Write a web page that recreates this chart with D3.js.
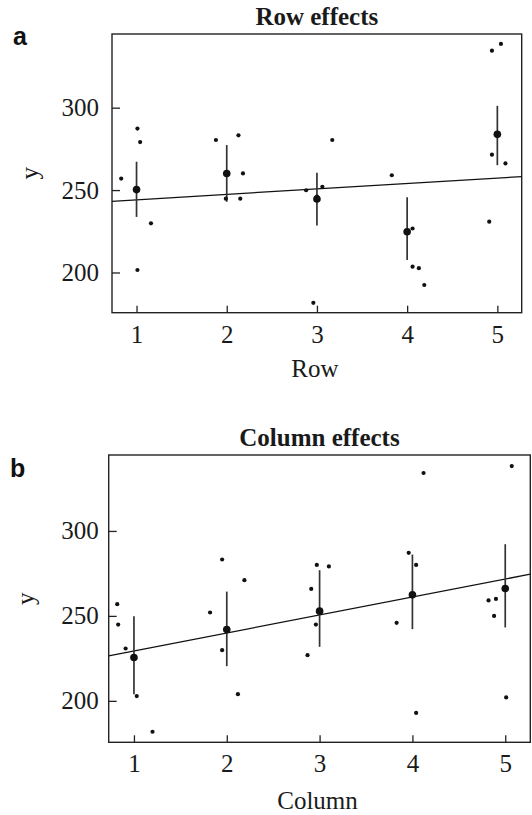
<!DOCTYPE html>
<html>
<head>
<meta charset="utf-8">
<script src="https://cdn.jsdelivr.net/npm/d3@7"></script>
<style>
  body { margin: 0; background: #fff; }
  svg { display: block; }
  .tick text { font-family: "Liberation Serif", "Times New Roman", serif; font-size: 25px; fill: #1a1a1a; }
</style>
</head>
<body>
<svg id="chart" width="532" height="815"></svg>
<script>
// panel a: observations by row (x jittered)
const rowX = [0.83, 1.01, 1.04, 1.01, 1.16, 1.88, 2.13, 2.18, 1.99, 2.15, 2.88, 3.06, 3.17, 2.96, 3.0,
  3.83, 4.06, 4.06, 4.13, 4.19, 4.91, 4.94, 5.04, 4.94, 5.09];
const rowY = [257.0, 287.3, 279.1, 201.5, 229.8, 280.4, 283.2, 260.1, 244.8, 244.8, 249.9, 252.0, 280.4, 181.6, 246.0,
  259.0, 226.7, 203.5, 202.6, 192.4, 230.8, 334.6, 338.7, 271.5, 266.2];
const rowMean = [250.3, 260.1, 244.6, 224.7, 283.8];
const rowLo = [233.7, 242.9, 228.5, 207.6, 265.1];
const rowHi = [267.2, 277.3, 260.5, 245.6, 301.1];
const rowFit = [240.8, 3.3]; // intercept, slope

// panel b: observations by column
const colX = [0.82, 0.83, 0.91, 1.03, 1.2, 1.95, 2.19, 1.82, 1.95, 2.12, 2.97, 3.10, 2.91, 2.96, 2.87,
  4.12, 3.96, 4.04, 3.83, 4.04, 5.07, 4.82, 4.9, 4.88, 5.01];
const colY = [256.9, 244.9, 230.8, 202.8, 181.8, 283.2, 271.0, 252.0, 229.8, 203.9, 280.0, 279.1, 265.9, 244.9, 226.9,
  334.1, 287.1, 280.0, 245.9, 192.9, 338.2, 259.1, 260.0, 250.0, 202.0];
const colMean = [225.5, 242.0, 252.8, 262.4, 266.1];
const colLo = [203.9, 220.4, 231.8, 242.2, 243.2];
const colHi = [249.8, 264.3, 276.9, 286.1, 292.2];
const colFit = [218.8, 10.58];

const xTicks = [1, 2, 3, 4, 5];
const yTicks = [200, 250, 300];
const xDomain = [0.728, 5.27];
const yDomain = [175.6, 344.7];

const svg = d3.select('#chart');
const serif = '"Liberation Serif", "Times New Roman", serif';

function panel(opt) {
  const x = d3.scaleLinear().domain(xDomain).range([opt.left, opt.right]);
  const y = d3.scaleLinear().domain(yDomain).range([opt.bottom, opt.top]);
  const g = svg.append('g');

  // y axis, ticks pointing inward
  g.append('g')
    .attr('transform', 'translate(' + opt.left + ',0)')
    .call(d3.axisLeft(y).tickValues(yTicks).tickFormat(d3.format('d')).tickSize(-8).tickPadding(opt.yPad))
    .call(a => a.select('.domain').remove())
    .call(a => a.selectAll('line').attr('stroke', '#222').attr('stroke-width', 1.3));

  g.append('g')
    .attr('transform', 'translate(0,' + opt.bottom + ')')
    .call(d3.axisBottom(x).tickValues(xTicks).tickFormat(d3.format('d')).tickSize(-7).tickPadding(opt.xPad))
    .call(a => a.select('.domain').remove())
    .call(a => a.selectAll('line').attr('stroke', '#222').attr('stroke-width', 1.3));

  // box
  g.append('rect')
    .attr('x', opt.left).attr('y', opt.top)
    .attr('width', opt.right - opt.left).attr('height', opt.bottom - opt.top)
    .attr('fill', 'none').attr('stroke', '#222').attr('stroke-width', 1.4);

  // fitted line
  g.append('line')
    .attr('x1', x(xDomain[0])).attr('y1', y(opt.fit[0] + opt.fit[1] * xDomain[0]))
    .attr('x2', x(xDomain[1])).attr('y2', y(opt.fit[0] + opt.fit[1] * xDomain[1]))
    .attr('stroke', '#111').attr('stroke-width', 1.3);

  // error bars
  g.selectAll('.err')
    .data(xTicks)
    .enter().append('line')
    .attr('class', 'err')
    .attr('x1', d => x(d)).attr('x2', d => x(d))
    .attr('y1', (d, i) => y(opt.lo[i])).attr('y2', (d, i) => y(opt.hi[i]))
    .attr('stroke', '#333').attr('stroke-width', 1.7);

  // observations
  g.selectAll('.obs')
    .data(opt.ys)
    .enter().append('circle')
    .attr('class', 'obs')
    .attr('cx', (d, i) => x(opt.xs[i]))
    .attr('cy', d => y(d))
    .attr('r', 2.1)
    .attr('fill', '#111');

  // means
  g.selectAll('.mean')
    .data(opt.mean)
    .enter().append('circle')
    .attr('class', 'mean')
    .attr('cx', (d, i) => x(xTicks[i]))
    .attr('cy', d => y(d))
    .attr('r', 3.8)
    .attr('fill', '#111');

  const cx = (opt.left + opt.right) / 2;
  g.append('text')
    .attr('x', cx).attr('y', opt.top - 9)
    .attr('text-anchor', 'middle')
    .attr('font-family', serif).attr('font-weight', 'bold').attr('font-size', 25)
    .attr('fill', '#1a1a1a')
    .text(opt.title);

  g.append('text')
    .attr('x', cx - 2).attr('y', opt.xLabelY)
    .attr('text-anchor', 'middle')
    .attr('font-family', serif).attr('font-size', 25)
    .attr('fill', '#1a1a1a')
    .text(opt.xLabel);

  g.append('text')
    .attr('transform', 'translate(' + opt.yLabelX + ',' + (opt.top + opt.bottom) / 2 + ') rotate(-90)')
    .attr('text-anchor', 'middle')
    .attr('font-family', serif).attr('font-size', 25)
    .attr('fill', '#1a1a1a')
    .text('y');

  g.append('text')
    .attr('x', opt.tagX).attr('y', opt.tagY)
    .attr('font-family', '"Liberation Sans", Arial, sans-serif').attr('font-weight', 'bold').attr('font-size', 25)
    .attr('fill', '#111')
    .text(opt.tag);
}

panel({
  left: 112, right: 521.7, top: 34, bottom: 312.7,
  xs: rowX, ys: rowY, mean: rowMean, lo: rowLo, hi: rowHi, fit: rowFit,
  title: 'Row effects', xLabel: 'Row', xLabelY: 377, yLabelX: 38,
  yPad: 13, xPad: 13, tag: 'a', tagX: 13, tagY: 45
});

panel({
  left: 108.7, right: 530.3, top: 455, bottom: 742.3,
  xs: colX, ys: colY, mean: colMean, lo: colLo, hi: colHi, fit: colFit,
  title: 'Column effects', xLabel: 'Column', xLabelY: 809, yLabelX: 34,
  yPad: 10, xPad: 12, tag: 'b', tagX: 10, tagY: 477
});
</script>
</body>
</html>
